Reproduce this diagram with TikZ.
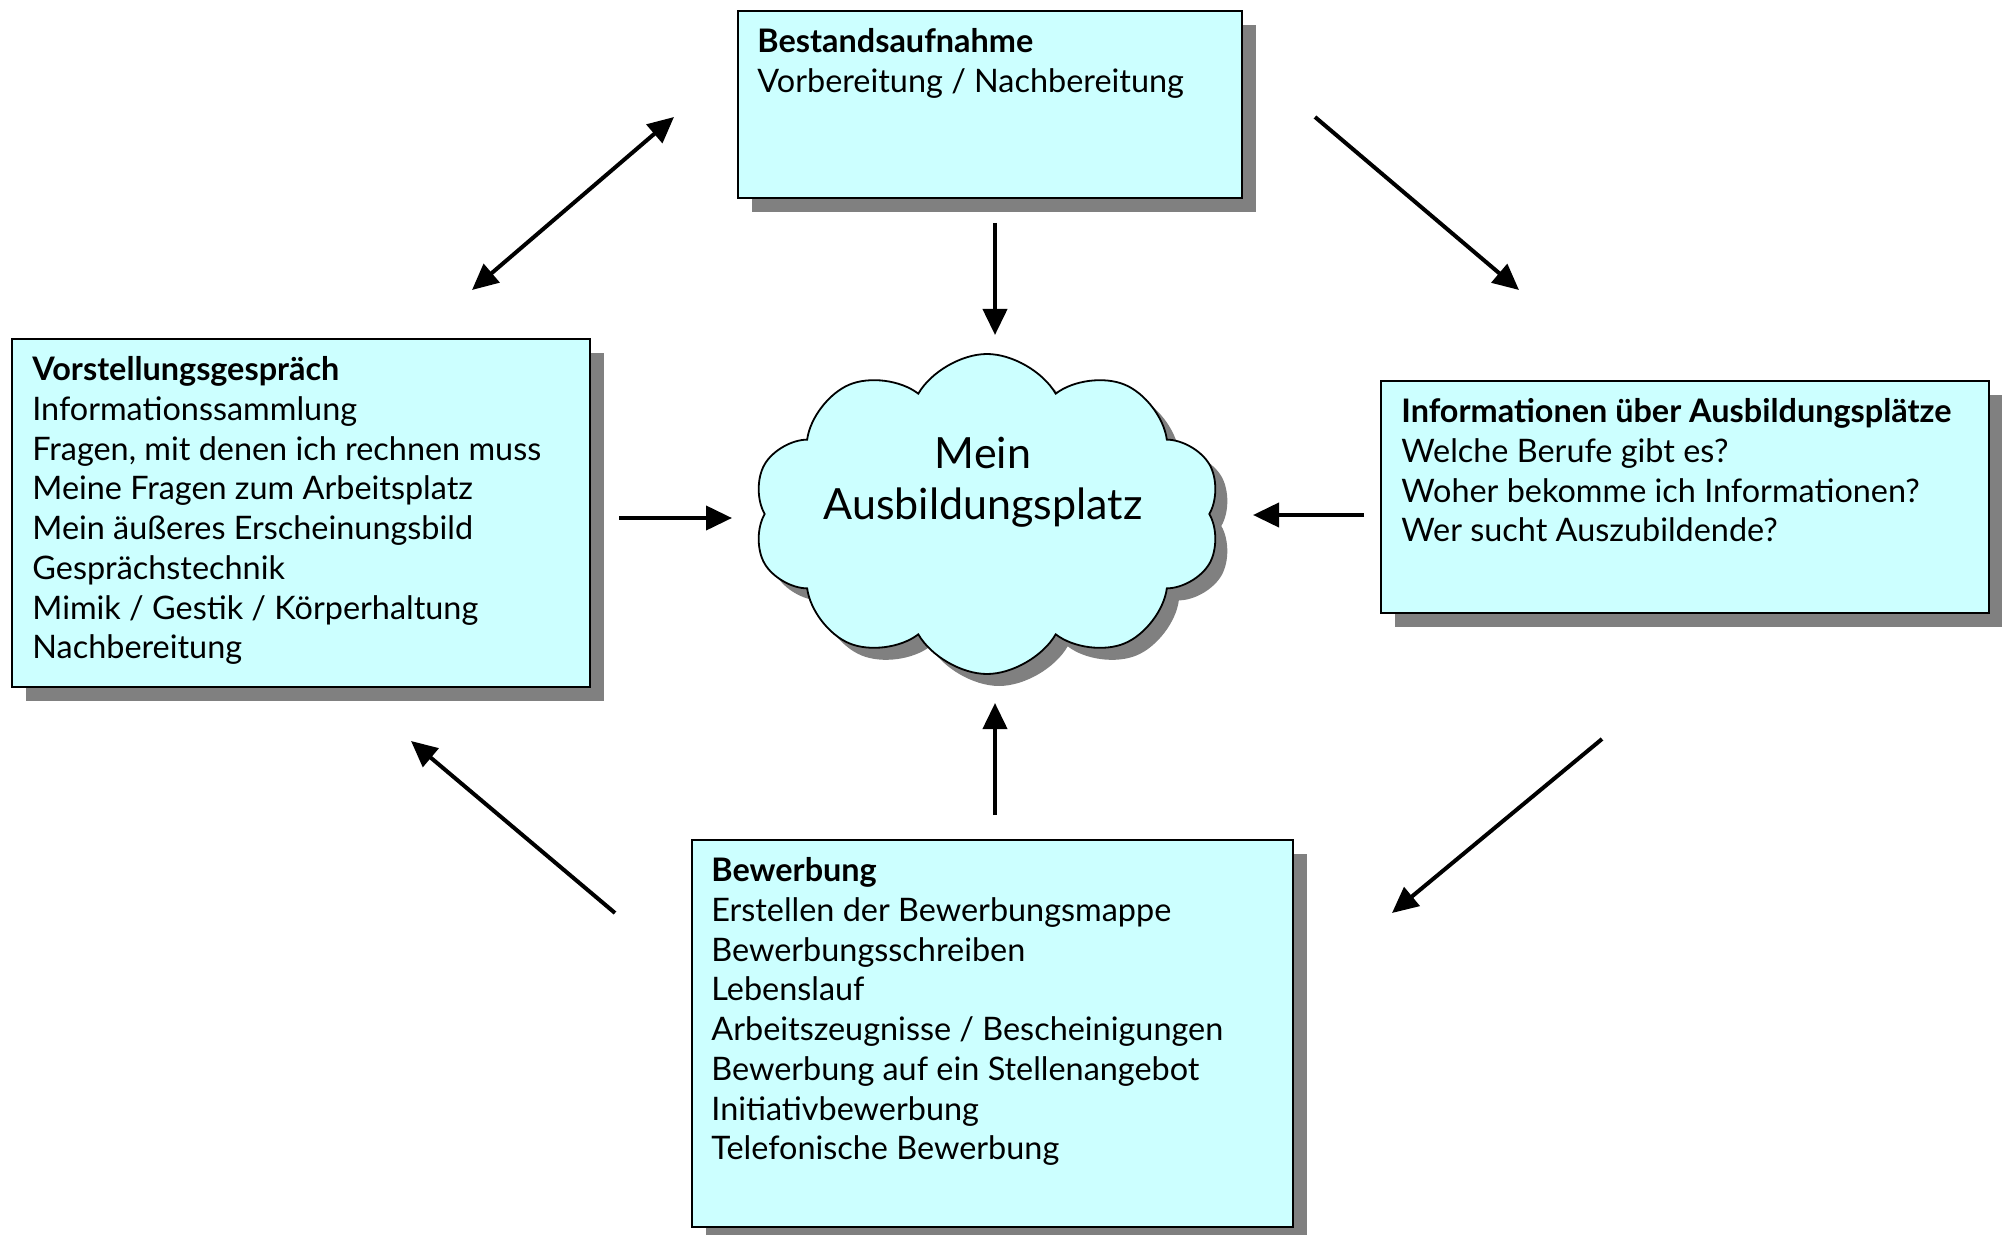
\documentclass[tikz,border=0pt]{standalone}
\usepackage{fontspec}
\setmainfont{Lato}
\usetikzlibrary{arrows.meta,shapes.symbols,shadows}
\definecolor{boxfill}{HTML}{CCFFFF}
\definecolor{shadowgray}{HTML}{808080}
\begin{document}
\begin{tikzpicture}[x=0.5pt,y=-0.5pt,
  shad/.style={drop shadow={shadow xshift=7pt, shadow yshift=-7pt, fill=shadowgray, opacity=1}},
  box/.style={draw=black, line width=0.9pt, fill=boxfill, anchor=north west, inner sep=0pt, shad},
  txt/.style={anchor=north west, inner sep=0pt, align=left, font=\fontsize{16.2}{19.85}\selectfont},
  arr/.style={line width=2pt, -{Triangle[length=13pt,width=12pt]}},
  darr/.style={line width=2pt, {Triangle[length=13pt,width=12pt]}-{Triangle[length=13pt,width=12pt]}}]
\fill[white] (0,0) rectangle (2002,1235);
\useasboundingbox (0,0) rectangle (2002,1235);

% boxes
\node[box, minimum width=252pt, minimum height=93.5pt] (top) at (737,10) {};
\node[box, minimum width=289pt, minimum height=174pt] (left) at (11,338) {};
\node[box, minimum width=304pt, minimum height=116pt] (right) at (1380,380) {};
\node[box, minimum width=300.5pt, minimum height=193.5pt] (bottom) at (691,839) {};

% cloud
\node[cloud, cloud puffs=10, cloud puff arc=120, draw=black, line width=0.9pt, fill=boxfill,
  minimum width=234pt, minimum height=160pt, inner sep=0pt,
  drop shadow={shadow xshift=6pt, shadow yshift=-6pt, fill=shadowgray, opacity=1}] (cloud) at (987,514) {};
\node[align=center, inner sep=0pt, font=\fontsize{21.5}{25.5}\selectfont] (cloudtxt) at (983,482) {Mein\\Ausbildungsplatz};

% texts
\node[txt] (toptxt) at ([xshift=10pt,yshift=-9.2pt]top.north west)
  {\textbf{Bestandsaufnahme}\\Vorbereitung / Nachbereitung};
\node[txt] (lefttxt) at ([xshift=10.5pt,yshift=-9.2pt]left.north west)
  {\textbf{Vorstellungsgespräch}\\Informationssammlung\\Fragen, mit denen ich rechnen muss\\Meine Fragen zum Arbeitsplatz\\Mein äußeres Erscheinungsbild\\Gesprächstechnik\\Mimik / Gestik / Körperhaltung\\Nachbereitung};
\node[txt] (righttxt) at ([xshift=10.5pt,yshift=-9.2pt]right.north west)
  {\textbf{Informationen über Ausbildungsplätze}\\Welche Berufe gibt es?\\Woher bekomme ich Informationen?\\Wer sucht Auszubildende?};
\node[txt] (bottomtxt) at ([xshift=10pt,yshift=-9.2pt]bottom.north west)
  {\textbf{Bewerbung}\\Erstellen der Bewerbungsmappe\\Bewerbungsschreiben\\Lebenslauf\\Arbeitszeugnisse / Bescheinigungen\\Bewerbung auf ein Stellenangebot\\Initiativbewerbung\\Telefonische Bewerbung};

% arrow end points
\coordinate (a1) at (472,290); \coordinate (a2) at (674,117);
\coordinate (b1) at (1315,117); \coordinate (b2) at (1519,290);
\coordinate (c1) at (1602,739); \coordinate (c2) at (1392,913);
\coordinate (d1) at (615,913); \coordinate (d2) at (411,741);
\coordinate (e1) at (995,223); \coordinate (e2) at (995,335);
\coordinate (f1) at (619,518); \coordinate (f2) at (732,518);
\coordinate (g1) at (1364,515); \coordinate (g2) at (1253,515);
\coordinate (h1) at (995,815); \coordinate (h2) at (995,703);

\draw[darr] (a1) -- (a2);
\draw[arr] (b1) -- (b2);
\draw[arr] (c1) -- (c2);
\draw[arr] (d1) -- (d2);
\draw[arr] (e1) -- (e2);
\draw[arr] (f1) -- (f2);
\draw[arr] (g1) -- (g2);
\draw[arr] (h1) -- (h2);
\end{tikzpicture}
\end{document}
